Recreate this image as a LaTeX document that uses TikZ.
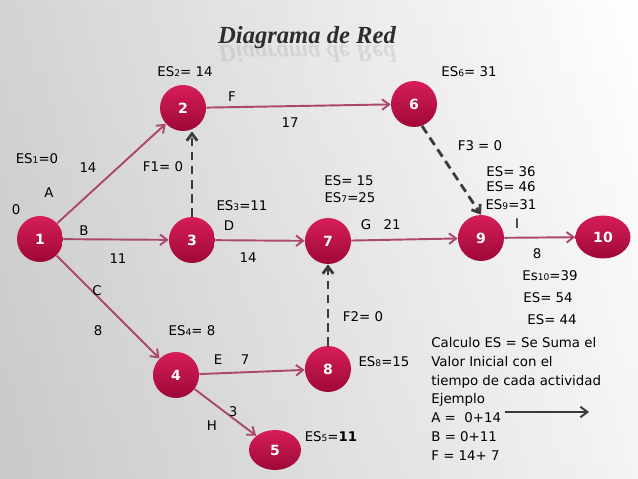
\documentclass[tikz,border=0pt]{standalone}
\usepackage{fontspec}
\setmainfont{DejaVu Sans}
\newfontfamily\rotulofont{Liberation Serif}[BoldItalicFont={Liberation Serif Bold Italic}]
\usepackage{tikz}
\usetikzlibrary{arrows.meta,shapes.geometric,backgrounds}
\definecolor{nodetop}{RGB}{214,30,88}
\definecolor{nodebot}{RGB}{158,8,54}
\definecolor{edgec}{RGB}{170,72,110}
\definecolor{dummyc}{RGB}{58,58,58}
\definecolor{titlec}{RGB}{45,45,45}
\newcommand{\sub}[1]{{\fontsize{5.2}{6}\selectfont #1}}

\begin{document}
\begin{tikzpicture}[x=0.02cm,y=-0.02cm,>={Straight Barb[length=4pt,width=6pt]},
  evento/.style={circle,minimum size=0.92cm,inner sep=0pt,top color=nodetop,bottom color=nodebot,text=white,font=\fontsize{8}{9}\selectfont\bfseries},
  actividad/.style={->,edgec,line width=1.1pt},
  ficticia/.style={->,dummyc,line width=1.6pt,dash pattern=on 5pt off 3pt},
  lbl/.style={inner sep=0pt,font=\fontsize{7.6}{9}\selectfont},
  titulo/.style={anchor=base,inner sep=0pt,text=titlec}]
\useasboundingbox (0,0) rectangle (638,479);
\shade[left color=black!26,right color=white] (0,0) rectangle (638,479);
\shade[top color=white,bottom color=black!12,opacity=.35] (0,0) rectangle (638,479);
% titulo con reflejo
\node[titulo] (tit) at (307,44) {\rotulofont\fontsize{14}{16}\selectfont\bfseries\itshape Diagrama de Red};
\node[titulo,opacity=.1,yscale=-1,transform shape] (titR) at (307,46) {\rotulofont\fontsize{14}{16}\selectfont\bfseries\itshape Diagrama de Red};
% eventos
\node[evento] (n1) at (40,239) {1};
\node[evento] (n2) at (183,108) {2};
\node[evento] (n3) at (192,240) {3};
\node[evento] (n4) at (176,375) {4};
\node[evento,ellipse,minimum width=1.04cm,minimum height=0.8cm] (n5) at (275,450) {5};
\node[evento] (n6) at (414,104) {6};
\node[evento] (n7) at (328,241) {7};
\node[evento] (n8) at (328,369) {8};
\node[evento] (n9) at (481,238) {9};
\node[evento,ellipse,minimum width=1.1cm,minimum height=0.86cm] (n10) at (603,237) {10};
\begin{scope}[on background layer]
\foreach \n in {n1,n2,n3,n4,n5,n6,n7,n8,n9,n10}{\fill[black,opacity=.13] ([yshift=-2pt]\n.south) ellipse [x radius=0.34cm,y radius=0.07cm];}
\end{scope}
% actividades
\draw[actividad] (n1) -- (n2);
\draw[actividad] (n1) -- (n3);
\draw[actividad] (n1) -- (n4);
\draw[actividad] (n2) -- (n6);
\draw[actividad] (n3) -- (n7);
\draw[actividad] (n7) -- (n9);
\draw[actividad] (n9) -- (n10);
\draw[actividad] (n4) -- (n8);
\draw[actividad] (n4) -- (n5);
% ficticias
\draw[ficticia] (n3.north) -- (n3.north |- n2.south);
\draw[ficticia] (n8.north) -- (n8.north |- n7.south);
\draw[ficticia] (n6.-70) -- (n9.north);
% etiquetas
\node[lbl] (es2) at (185,72) {ES\sub{2}= 14};
\node[lbl] (aF) at (232,97) {F};
\node[lbl] (dF) at (290,123) {17};
\node[lbl] (es6) at (469,72) {ES\sub{6}= 31};
\node[lbl] (es1) at (37,159) {ES\sub{1}=0};
\node[lbl] (dA) at (88,168) {14};
\node[lbl] (aA) at (49,193) {A};
\node[lbl] (ini) at (16,210) {0};
\node[lbl] (f1) at (163,167) {F1= 0};
\node[lbl] (es3) at (242,206) {ES\sub{3}=11};
\node[lbl] (aD) at (229,226) {D};
\node[lbl] (aB) at (84,231) {B};
\node[lbl] (dB) at (118,259) {11};
\node[lbl] (dD) at (248,258) {14};
\node[lbl] (es7a) at (349,181) {ES= 15};
\node[lbl] (es7) at (350,198) {ES\sub{7}=25};
\node[lbl] (aG) at (366,225) {G};
\node[lbl] (dG) at (392,225) {21};
\node[lbl] (f3) at (480,146) {F3 = 0};
\node[lbl] (es9a) at (511,172) {ES= 36};
\node[lbl] (es9b) at (511,187) {ES= 46};
\node[lbl] (es9) at (511,205) {ES\sub{9}=31};
\node[lbl] (aI) at (517,224) {I};
\node[lbl] (dI) at (537,254) {8};
\node[lbl] (es10) at (550,276) {Es\sub{10}=39};
\node[lbl] (es10a) at (548,298) {ES= 54};
\node[lbl] (es10b) at (552,320) {ES= 44};
\node[lbl] (aC) at (97,291) {C};
\node[lbl] (dC) at (98,331) {8};
\node[lbl] (es4) at (192,331) {ES\sub{4}= 8};
\node[lbl] (aE) at (218,360) {E};
\node[lbl] (dE) at (245,360) {7};
\node[lbl] (f2) at (363,317) {F2= 0};
\node[lbl] (es8) at (384,362) {ES\sub{8}=15};
\node[lbl] (dH) at (233,412) {3};
\node[lbl] (aH) at (212,426) {H};
\node[lbl] (es5) at (331,437) {ES\sub{5}=\textbf{11}};
% nota
\node[lbl,anchor=north west,align=left,font=\fontsize{7.6}{10.7}\selectfont] (nota) at (431,337)
  {Calculo ES = Se Suma el\\Valor Inicial con el\\tiempo de cada actividad\\Ejemplo\\A =\ \ 0+14\\B = 0+11\\F = 14+ 7};
\coordinate (ejA) at (505,412);
\coordinate (ejB) at (589,412);
\draw[->,dummyc,line width=1.1pt] (ejA) -- (ejB);
\end{tikzpicture}
\end{document}
